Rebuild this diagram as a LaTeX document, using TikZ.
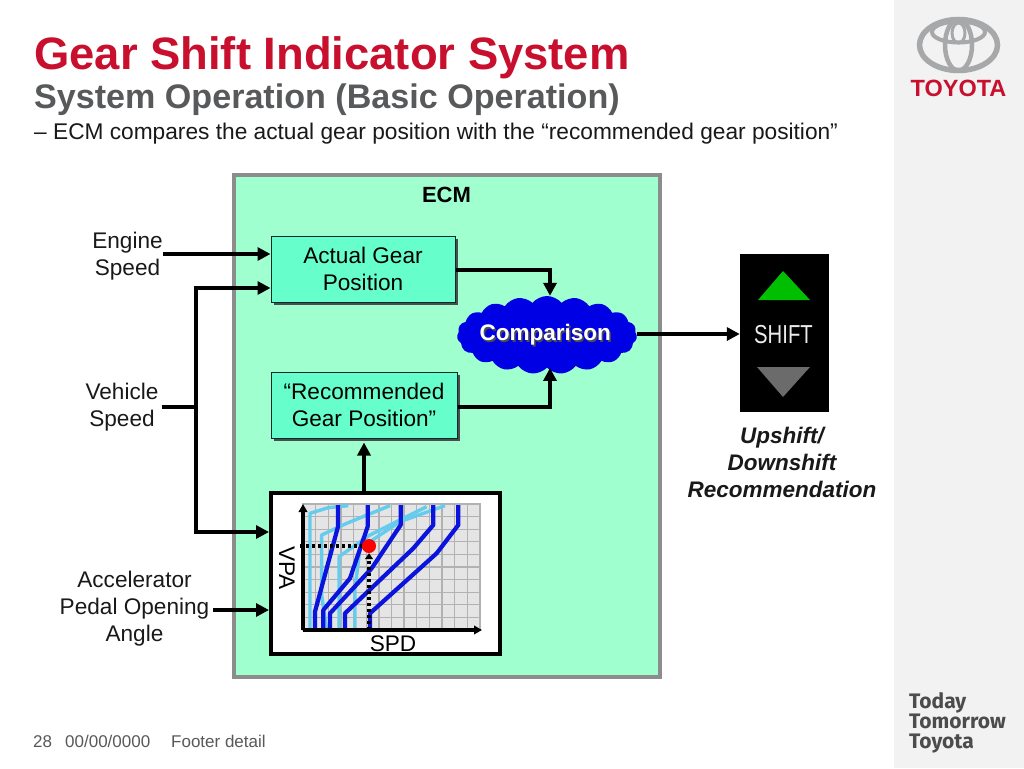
\documentclass[tikz,border=0pt]{standalone}
\usepackage{fontspec}
\setmainfont{Liberation Sans}
\newfontfamily\brandfont{Fira Sans}
\usetikzlibrary{arrows.meta,shapes.symbols,calc}
\definecolor{toyred}{HTML}{C8102E}
\definecolor{subgray}{HTML}{58595B}
\definecolor{ecmfill}{HTML}{9FFFCF}
\definecolor{boxfill}{HTML}{66FFCC}
\definecolor{panel}{HTML}{F2F2F2}
\definecolor{lightblue}{HTML}{66CCEE}
\definecolor{curveblue}{HTML}{0A14DC}
\definecolor{logogray}{HTML}{A6A8AA}
\tikzset{
 fs/.style={font=\fontsize{#1}{#1}\selectfont},
 label/.style={inner sep=0pt,align=center,fs=22.6,text=black!90},
 wire/.style={line width=3.7pt,-{Triangle[length=13pt,width=13pt]}},
 plainwire/.style={line width=3.7pt},
 gearbox/.style={draw=black!65!teal,line width=1pt,fill=boxfill,align=center,fs=22.6,inner sep=0pt,minimum width=184pt,minimum height=66pt},
 boxshade/.style={fill=black!70},
 title/.style={anchor=base west,inner sep=0pt},
 bluecurve/.style={curveblue,line width=4.2pt,line join=round},
 lightcurve/.style={lightblue,line width=3.4pt,line join=round},
 logoring/.style={draw=logogray,fill=none},
 brandline/.style={anchor=base west,inner sep=0pt,text=black!70,font=\brandfont\fontsize{21}{21}\selectfont\bfseries},
 dotline/.style={line width=3.3pt,dash pattern=on 3pt off 3pt},
}
\begin{document}
\begin{tikzpicture}[x=1pt,y=-1pt]
\useasboundingbox (0,0) rectangle (1024,768);
\fill[white] (0,0) rectangle (1024,768);
\fill[panel] (894,0) rectangle (1024,768);
% titles
\node[title,fs=45.4,text=toyred] (t1) at (34,69) {\bfseries Gear Shift Indicator System};
\node[title,fs=34.1,text=subgray] (t2) at (34,108) {\bfseries System Operation (Basic Operation)};
\node[title,fs=22.7,text=black!90] (t3) at (34,139.5) {– ECM compares the actual gear position with the “recommended gear position”};
% ECM
\node[draw=black!45,line width=4pt,fill=ecmfill,minimum width=426pt,minimum height=502pt,inner sep=0pt] (ecm) at (447,426) {};
\node[inner sep=0pt,fs=22] (ecmlabel) at (446.5,194.5) {\bfseries ECM};
% boxes
\fill[boxshade] (274,239) rectangle (457.8,304.5);
\node[gearbox] (actual) at (363,269) {Actual Gear\\[4.4pt]Position};
\fill[boxshade] (274,375) rectangle (459.8,441);
\node[gearbox,minimum width=186pt] (recommended) at (364,405) {“Recommended\\[4.4pt]Gear Position”};
% chart
\node[draw=black,line width=4pt,fill=white,minimum width=229pt,minimum height=161pt,inner sep=0pt] (chart) at (385.5,573.5) {};
\fill[black!10] (303,504) rectangle (480,630);
\foreach \gx in {0,...,13} \draw[black!30,line width=1.3pt] ({303+\gx*177/14},504) -- ({303+\gx*177/14},630);
\foreach \gy in {0,...,10} \draw[black!30,line width=1.3pt] (303,{504+\gy*12.6}) -- (480,{504+\gy*12.6});
\draw[black!30,line width=1.3pt] (303,504) rectangle (480,630);
\begin{scope}[shift={(260,485)},x=0.3333pt,y=-0.3333pt]
 \draw[lightcurve] (150,435) -- (150,85) -- (205,68) -- (265,62);
 \draw[lightcurve] (200,435) -- (185,330) -- (185,150) -- (260,115) -- (390,62);
 \draw[lightcurve] (237,435) -- (237,215) -- (330,150) -- (500,65);
 \draw[lightcurve] (285,435) -- (285,310) -- (300,190) -- (420,110) -- (555,62);
 \draw[bluecurve] (234,60) -- (234,125) -- (165,380) -- (165,432);
 \draw[bluecurve] (323,60) -- (323,125) -- (270,280) -- (190,375) -- (190,432);
 \draw[bluecurve] (422,60) -- (422,120) -- (335,250) -- (210,385) -- (210,432);
 \draw[bluecurve] (520,60) -- (520,120) -- (460,190) -- (255,385) -- (255,432);
 \draw[bluecurve] (595,60) -- (595,120) -- (530,205) -- (330,385) -- (330,432);
\end{scope}
\coordinate (origin) at (303,630);
\coordinate (xend) at (482,630);
\coordinate (yend) at (303,504);
\coordinate (dotv) at (300,546);
\coordinate (doth) at (369,630);
\draw[line width=3.2pt,-{Triangle[length=8pt,width=8.5pt]}] (origin) -- (xend);
\draw[line width=3.2pt,-{Triangle[length=8pt,width=8.5pt]}] (origin) -- (yend);
\node[circle,fill=red,inner sep=0pt,minimum size=14pt] (point) at (369,546) {};
\draw[dotline] (dotv) -- (point);
\draw[dotline,-{Triangle[length=6pt,width=8pt]}] (doth) -- (point);
\node[inner sep=0pt,fs=22.6,rotate=-90] (vpa) at (287,568) {VPA};
\node[inner sep=0pt,fs=22.6] (spd) at (393,644) {SPD};
% cloud
\node[cloud,cloud puffs=19,cloud puff arc=100,aspect=2.5,fill=blue!90!black,draw=none,minimum width=180pt,minimum height=78pt,inner sep=0pt] (cloud) at (547,335) {};
\node[inner sep=0pt,fs=22.5,text=black!70] (cmpshadow) at (546.8,336.5) {\bfseries Comparison};
\node[inner sep=0pt,fs=22.5,text=white] (cmp) at (545.3,335) {\bfseries Comparison};
% shift panel
\node[fill=black,minimum width=89pt,minimum height=158pt,inner sep=0pt] (shift) at (784.5,333) {};
\fill[green!75!black] (758,300) -- (810,300) -- (783,271) -- cycle;
\fill[black!58] (757,367) -- (810,367) -- (783,397) -- cycle;
\node[inner sep=0pt,text=white!92!black,xscale=.78] (shifttext) at (783.5,335) {\fontsize{26}{26}\selectfont SHIFT};
% labels
\node[label] (engine) at (127.5,256) {Engine\\[4.4pt]Speed};
\node[label] (vehicle) at (122,407) {Vehicle\\[4.4pt]Speed};
\node[label] (pedal) at (134.5,609) {Accelerator\\[4.4pt]Pedal Opening\\[4.4pt]Angle};
\node[inner sep=0pt,align=center,fs=22.5,text=black!90] (upshift) at (782,462) {\bfseries\itshape Upshift/\\[4.5pt]\bfseries\itshape Downshift\\[4.5pt]\bfseries\itshape Recommendation};
% connectors
\coordinate (bustop) at (196,288);
\coordinate (busmid) at (196,407);
\coordinate (busbot) at (196,532);
\draw[wire] (engine.east |- 0,254) -- (actual.west |- 0,254);
\draw[plainwire] (vehicle.east |- 0,407) ++(3,0) -- (busmid);
\draw[wire] (bustop) -- (actual.west |- bustop);
\draw[wire] (busbot) -- (chart.west |- busbot);
\draw[plainwire,line cap=rect] (bustop) -- (busbot);
\draw[wire] (pedal.east |- 0,610) ++(4,0) -- (chart.west |- 0,610);
\draw[wire] (actual.east |- 0,270) -| ($(cloud.north)+(3,0)$);
\draw[wire] (recommended.east |- 0,407) -| ($(cloud.south)+(3,0)$);
\draw[wire] (chart.north -| recommended) -- ($(recommended.south)+(0,4)$);
\draw[wire] (cloud.east |- 0,334) -- (shift.west |- 0,334);
% logo
\draw[logoring,line width=5.5pt] (958.5,45) ellipse[x radius=39pt,y radius=25.5pt];
\draw[logoring,line width=4pt] (958.5,32) ellipse[x radius=26.5pt,y radius=10.5pt];
\draw[logoring,line width=4.5pt] (958.5,45) ellipse[x radius=13.5pt,y radius=25.5pt];
\draw[logoring,line width=3pt] (958.5,33) ellipse[x radius=6.5pt,y radius=10pt];
\node[inner sep=0pt,text=toyred] (toyota) at (958.5,88.5) {\fontsize{23.5}{23.5}\selectfont\bfseries TOYOTA};
% brand
\node[brandline] (b1) at (909,708) {Today};
\node[brandline] (b2) at (909,728) {Tomorrow};
\node[brandline] (b3) at (909,748) {Toyota};
% footer
\node[title,fs=17,text=black!65] (f1) at (33,747) {28};
\node[title,fs=17,text=black!65] (f2) at (65,747) {00/00/0000};
\node[title,fs=17,text=black!65] (f3) at (171,747) {Footer detail};
\end{tikzpicture}
\end{document}
